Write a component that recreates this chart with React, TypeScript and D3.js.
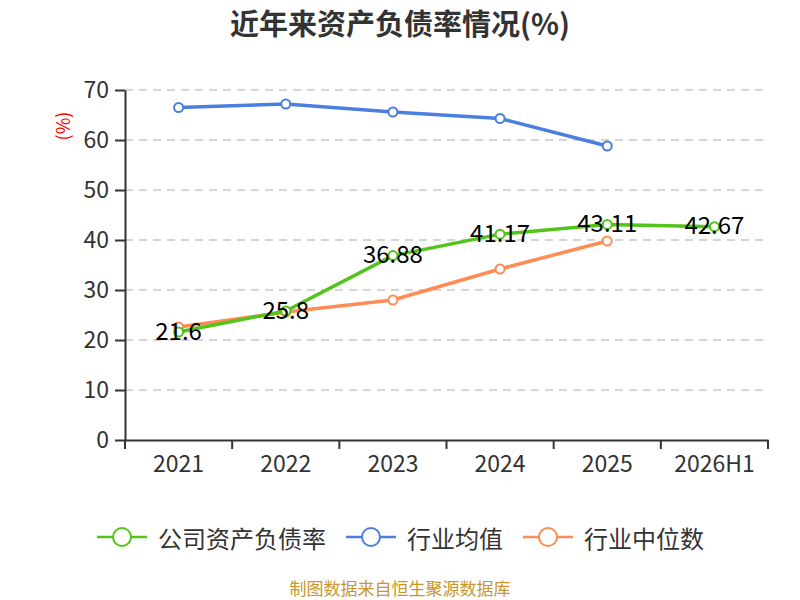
import { useEffect, useRef } from "react"
import * as d3 from "d3"

const categories = ["2021", "2022", "2023", "2024", "2025", "2026H1"]
const companyRatio = [21.6, 25.8, 36.88, 41.17, 43.11, 42.67]
const industryMean = [66.5, 67.2, 65.6, 64.3, 58.8]
const industryMedian = [22.6, 25.6, 28.0, 34.2, 39.8]
const yTicks = [0, 10, 20, 30, 40, 50, 60, 70]

const seriesNames = ["公司资产负债率", "行业均值", "行业中位数"]
const seriesColors = ["#52c41a", "#4a7fe0", "#ff8c55"]

const FONT = "'Noto Sans CJK SC', 'Noto Sans', sans-serif"

export default function App() {
  const svgRef = useRef<SVGSVGElement>(null)

  useEffect(() => {
    if (!svgRef.current) return
    const width = 800
    const height = 600
    const margin = { top: 90, right: 32, bottom: 160, left: 125 }

    const svg = d3.select(svgRef.current).attr("width", width).attr("height", height)
    svg.selectAll("*").remove()

    const x = d3
      .scaleBand<string>()
      .domain(categories)
      .range([margin.left, width - margin.right])
    const y = d3
      .scaleLinear()
      .domain([0, 70])
      .range([height - margin.bottom, margin.top])

    // title
    svg
      .append("text")
      .attr("x", width / 2)
      .attr("y", 22)
      .attr("text-anchor", "middle")
      .attr("dominant-baseline", "central")
      .attr("font-family", FONT)
      .attr("font-size", 29)
      .attr("font-weight", "bold")
      .attr("fill", "#333")
      .text("近年来资产负债率情况(%)")

    // unit label
    svg
      .append("text")
      .attr("transform", `translate(62,126) rotate(-90)`)
      .attr("text-anchor", "middle")
      .attr("dominant-baseline", "central")
      .attr("font-family", FONT)
      .attr("font-size", 18)
      .attr("fill", "#f00")
      .text("(%)")

    // grid
    svg
      .append("g")
      .selectAll("line")
      .data(yTicks.filter((t) => t > 0))
      .enter()
      .append("line")
      .attr("x1", margin.left)
      .attr("x2", width - margin.right)
      .attr("y1", (d) => y(d))
      .attr("y2", (d) => y(d))
      .attr("stroke", "#c8c8c8")
      .attr("stroke-width", 1.5)
      .attr("stroke-dasharray", "8,6")

    // y axis
    const yAxis = svg
      .append("g")
      .attr("transform", `translate(${margin.left},0)`)
      .call(d3.axisLeft(y).tickValues(yTicks).tickSize(10).tickPadding(6).tickSizeOuter(0))
    yAxis.select(".domain").attr("stroke", "#333").attr("stroke-width", 2)
    yAxis.selectAll(".tick line").attr("stroke", "#333").attr("stroke-width", 2)
    yAxis
      .selectAll(".tick text")
      .attr("font-family", FONT)
      .attr("font-size", 23)
      .attr("fill", "#333")

    // x axis
    const xAxis = svg
      .append("g")
      .attr("transform", `translate(0,${y(0)})`)
      .call(d3.axisBottom(x).tickSize(0).tickPadding(16))
    xAxis.select(".domain").attr("stroke", "#333").attr("stroke-width", 2)
    xAxis
      .selectAll(".tick text")
      .attr("font-family", FONT)
      .attr("font-size", 23)
      .attr("fill", "#333")
    const bounds = [...categories.map((c) => x(c) as number), width - margin.right]
    svg
      .append("g")
      .selectAll("line")
      .data(bounds)
      .enter()
      .append("line")
      .attr("x1", (d) => d)
      .attr("x2", (d) => d)
      .attr("y1", y(0))
      .attr("y2", y(0) + 9)
      .attr("stroke", "#333")
      .attr("stroke-width", 2)

    const cx = (i: number) => (x(categories[i]) as number) + x.bandwidth() / 2
    const line = d3
      .line<number>()
      .x((_, i) => cx(i))
      .y((d) => y(d))

    const allSeries = [companyRatio, industryMean, industryMedian]
    const order = [1, 2, 0]
    order.forEach((si) => {
      const data = allSeries[si]
      const g = svg.append("g")
      g.append("path")
        .datum(data)
        .attr("d", line)
        .attr("fill", "none")
        .attr("stroke", seriesColors[si])
        .attr("stroke-width", 3.5)
        .attr("stroke-linejoin", "round")
      g.selectAll("circle")
        .data(data)
        .enter()
        .append("circle")
        .attr("cx", (_, i) => cx(i))
        .attr("cy", (d) => y(d))
        .attr("r", 4.5)
        .attr("fill", "#fff")
        .attr("stroke", seriesColors[si])
        .attr("stroke-width", 2)
    })

    // labels for company series
    svg
      .append("g")
      .selectAll("text")
      .data(companyRatio)
      .enter()
      .append("text")
      .attr("x", (_, i) => cx(i))
      .attr("y", (d) => y(d) - 3)
      .attr("text-anchor", "middle")
      .attr("dominant-baseline", "central")
      .attr("font-family", FONT)
      .attr("font-size", 24)
      .attr("fill", "#000")
      .text((d) => String(d))

    // legend
    const legendX = [97, 346, 523]
    const legend = svg.append("g")
    seriesNames.forEach((name, i) => {
      const lg = legend.append("g").attr("transform", `translate(${legendX[i]},537)`)
      lg.append("line")
        .attr("x1", 0)
        .attr("x2", 50)
        .attr("stroke", seriesColors[i])
        .attr("stroke-width", 2.5)
      lg.append("circle")
        .attr("cx", 25)
        .attr("r", 9)
        .attr("fill", "#fff")
        .attr("stroke", seriesColors[i])
        .attr("stroke-width", 2)
      lg.append("text")
        .attr("x", 61)
        .attr("dominant-baseline", "central")
        .attr("font-family", FONT)
        .attr("font-size", 24)
        .attr("fill", "#333")
        .text(name)
    })

    // source
    svg
      .append("text")
      .attr("x", width / 2)
      .attr("y", 587)
      .attr("text-anchor", "middle")
      .attr("dominant-baseline", "central")
      .attr("font-family", FONT)
      .attr("font-size", 17)
      .attr("fill", "#c8962a")
      .text("制图数据来自恒生聚源数据库")
  }, [])

  return (
    <svg
      ref={svgRef}
      style={{ position: "absolute", left: 0, top: 0, background: "#fff" }}
    />
  )
}
